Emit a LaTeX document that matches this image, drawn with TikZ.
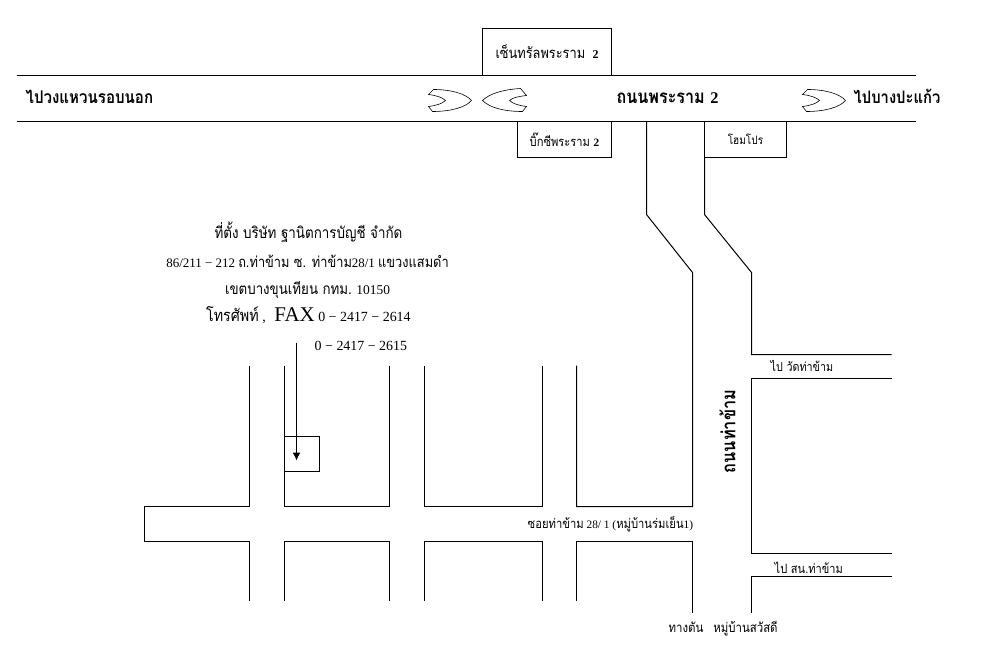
\documentclass[tikz,border=0pt]{standalone}
\usepackage{fontspec}
\setmainfont{Liberation Serif}
\newfontfamily\thaifont[Script=Thai,FakeStretch=0.86,Scale=1.15]{Loma}
\usetikzlibrary{arrows.meta,positioning}
\newcommand{\fsize}[1]{\fontsize{#1}{#1}\selectfont}
\tikzset{
	road/.style={line width=1bp,line join=miter},
	shop/.style={draw,line width=1bp,inner sep=0pt},
	lbl/.style={inner sep=0pt,font=\fsize{13}},
	uturn/.style={line width=0.6bp}
}
\begin{document}
\begin{tikzpicture}[x=1bp,y=-1bp]
	\useasboundingbox (-0.5,-0.5) rectangle (985.5,665.5);
	% main road
	\draw[road] (16,75) -- (915,75);
	\draw[road] (16,121) -- (915,121);
	% shops along the main road
	\node[shop,minimum width=129bp,minimum height=47bp,font=\thaifont\fsize{13}] (central) at (546.5,51.5) {เซ็นทรัลพระราม {\rmfamily\bfseries\fsize{12} 2}};
	\node[shop,minimum width=94bp,minimum height=36bp,font=\thaifont\fsize{11.3}] (bigc) at (564,139) {บิ๊กซีพระราม {\rmfamily\bfseries 2}};
	\node[shop,minimum width=82bp,minimum height=36bp,font=\thaifont\fsize{10.2}] (homepro) at (745,139) {โฮมโปร};
	% u-turn marks
	\foreach \s in {0,374}
		\draw[uturn,xshift=\s*1bp] (428,94) -- (433,89) .. controls (450,89) and (465,93) .. (471,100) .. controls (465,107) and (450,111) .. (432,111) -- (428,106) .. controls (436,105) and (442,103) .. (445,100) .. controls (442,97) and (436,95) .. (428,94) -- cycle;
	\draw[uturn] (526,95) -- (520,88) .. controls (503,89) and (489,93) .. (482,100) .. controls (489,107) and (503,111) .. (522,111) -- (526,106) .. controls (518,105) and (512,103) .. (509,100) .. controls (512,97) and (518,96) .. (526,95) -- cycle;
	% side road to the right
	\draw[road] (646,121) -- (646,214) -- (692,272) -- (692,506) -- (576,506) -- (576,365);
	\draw[road] (704,157) -- (704,214) -- (751,272) -- (751,354) -- (891,354);
	\draw[road] (891,378) -- (751,378) -- (751,553) -- (891,553);
	\draw[road] (891,576) -- (751,576) -- (751,612);
	\draw[road] (692,612) -- (692,541) -- (576,541) -- (576,600);
	% blocks along the soi
	\draw[road] (542,365) -- (542,506) -- (424,506) -- (424,365);
	\draw[road] (542,600) -- (542,541) -- (424,541) -- (424,600);
	\draw[road] (389,365) -- (389,506) -- (284,506) -- (284,365);
	\draw[road] (389,600) -- (389,541) -- (284,541) -- (284,600);
	\draw[road] (249,365) -- (249,506) -- (144,506) -- (144,541) -- (249,541) -- (249,600);
	% office and arrow
	\node[shop,minimum width=35bp,minimum height=35bp] (office) at (301.5,453.5) {};
	\coordinate (arrowstart) at (296,342);
	\coordinate (arrowend) at (296,460);
	\draw[-{Latex[length=8bp,width=8bp]},line width=1bp] (arrowstart) -- (arrowend);
	% address
	\node[lbl,font=\fsize{13.6}] (addr1) at (308,232) {\thaifont ที่ตั้ง บริษัท ฐานิตการบัญชี จำกัด};
	\node[lbl] (addr2) at (307,261) {86/211 − 212 {\thaifont ถ.ท่าข้าม ซ. ท่าข้าม}28/1 {\thaifont แขวงแสมดำ}};
	\node[lbl,font=\fsize{13.5}] (addr3) at (307,289) {{\thaifont เขตบางขุนเทียน กทม.} 10150};
	\node[lbl,font=\fsize{14}] (addr4) at (305.5,315) {{\thaifont\fsize{14.5} โทรศัพท์} , {\fsize{21} FAX} 0 − 2417 − 2614};
	\node[lbl,anchor=west,font=\fsize{14}] (addr5) at (314,345) {0 − 2417 − 2615};
	% road labels
	\node[lbl,anchor=west,font=\thaifont\bfseries\fsize{15.3}] (ringroad) at (25,96) {ไปวงแหวนรอบนอก};
	\node[lbl,font=\thaifont\bfseries\fsize{16.4}] (rama) at (667,98) {ถนนพระราม {\rmfamily 2}};
	\node[lbl,anchor=west,font=\thaifont\bfseries\fsize{15}] (bangpakaeo) at (853,96) {ไปบางปะแก้ว};
	\node[lbl,rotate=90,font=\thaifont\bfseries\fsize{16.6}] (thakham) at (727,431) {ถนนท่าข้าม};
	\node[lbl,anchor=west,font=\thaifont\fsize{10.9}] (wat) at (770,365) {ไป วัดท่าข้าม};
	\node[lbl,anchor=west,font=\thaifont\fsize{11.2}] (school) at (774,567) {ไป สน.ท่าข้าม};
	\node[lbl,anchor=west,font=\fsize{11.4}] (soi) at (527,524) {{\thaifont ซอยท่าข้าม} 28/ 1 ({\thaifont หมู่บ้านร่มเย็น}1)};
	\node[lbl,anchor=west,font=\thaifont\fsize{11.6}] (deadend) at (668,628) {ทางตัน\hspace{6pt} หมู่บ้านสวัสดี};
\end{tikzpicture}
\end{document}
